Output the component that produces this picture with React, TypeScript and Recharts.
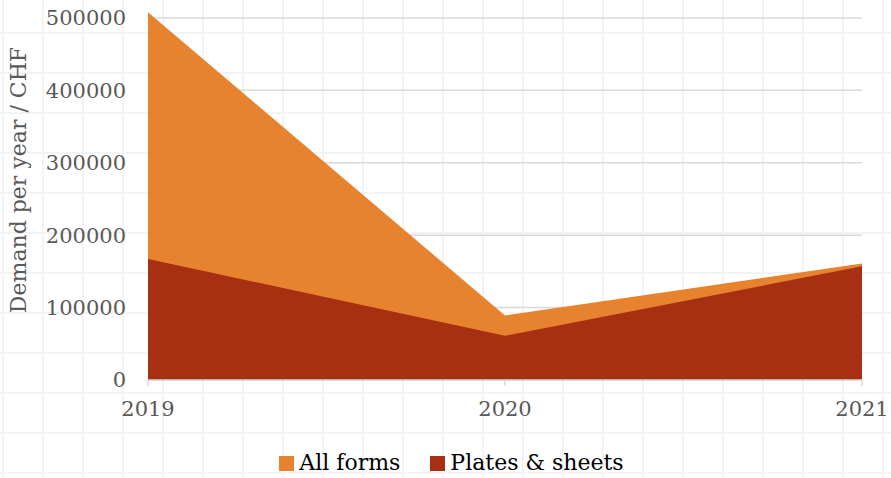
import { AreaChart, Area, XAxis, YAxis, CartesianGrid, Legend } from 'recharts';

const YEARS = ['2019', '2020', '2021'];
const ALL_FORMS = [508000, 89000, 161000];
const PLATES_SHEETS = [167000, 61000, 157000];
const Y_TICKS = [0, 100000, 200000, 300000, 400000, 500000];

const FONT = '"DejaVu Serif", serif';
const ORANGE = '#E7832F';
const RUST = '#A63011';

const data = YEARS.map((year, i) => ({
  year,
  allForms: ALL_FORMS[i],
  plates: PLATES_SHEETS[i],
}));

// legend drawn by hand so spacing and text colour match
const renderLegend = (props: any) => {
  const { payload = [] } = props;
  return (
    <div
      style={{
        display: 'flex',
        justifyContent: 'center',
        alignItems: 'flex-end',
        boxSizing: 'border-box',
        height: 48,
        paddingLeft: 12,
        paddingBottom: 2,
        gap: 30,
        fontFamily: FONT,
        fontSize: 22,
        lineHeight: '26px',
        color: '#000',
      }}
    >
      {payload.map((entry: any) => (
        <div key={entry.value} style={{ display: 'flex', alignItems: 'center', gap: 5 }}>
          <span style={{ width: 15, height: 15, background: entry.color, display: 'inline-block' }} />
          <span>{entry.value}</span>
        </div>
      ))}
    </div>
  );
};

export default function App() {
  return (
    <div
      style={{
        position: 'absolute',
        left: 0,
        top: 0,
        width: 891,
        height: 478,
        background: '#fff',
        backgroundImage:
          'linear-gradient(to right, #f3f3f3 2px, transparent 2px), linear-gradient(to bottom, #f3f3f3 2px, transparent 2px)',
        backgroundSize: '40px 40px',
        backgroundPosition: '2px 32px',
        fontFamily: FONT,
      }}
    >
      <AreaChart
        width={891}
        height={478}
        data={data}
        margin={{ top: 10, right: 29, bottom: 0, left: 0 }}
      >
        <CartesianGrid
          vertical={false}
          horizontalValues={Y_TICKS}
          stroke="#d9d9d9"
          strokeWidth={1.5}
        />
        <XAxis
          dataKey="year"
          tick={{ fill: '#595959', fontSize: 21, fontFamily: FONT }}
          axisLine={{ stroke: '#d9d9d9', strokeWidth: 1.5 }}
          tickLine={{ stroke: '#d9d9d9', strokeWidth: 1.5 }}
          tickSize={6}
          tickMargin={15}
          height={50}
          interval={0}
        />
        <YAxis
          width={148}
          domain={[0, 511000]}
          ticks={Y_TICKS}
          tick={{ fill: '#595959', fontSize: 21, fontFamily: FONT }}
          axisLine={false}
          tickLine={false}
          tickSize={6}
          tickMargin={16}
          label={{
            value: 'Demand per year / CHF',
            angle: -90,
            position: 'insideLeft',
            dx: 13,
            dy: -15,
            style: { fill: '#595959', fontSize: 22, fontFamily: FONT, textAnchor: 'middle' },
          }}
        />
        <Legend
          verticalAlign="bottom"
          height={48}
          content={renderLegend}
          wrapperStyle={{ left: 0, width: 891, bottom: 0 }}
        />
        <Area
          type="linear"
          dataKey="allForms"
          name="All forms"
          stroke="none"
          fill={ORANGE}
          fillOpacity={1}
          isAnimationActive={false}
        />
        <Area
          type="linear"
          dataKey="plates"
          name="Plates & sheets"
          stroke="none"
          fill={RUST}
          fillOpacity={1}
          isAnimationActive={false}
        />
      </AreaChart>
    </div>
  );
}
